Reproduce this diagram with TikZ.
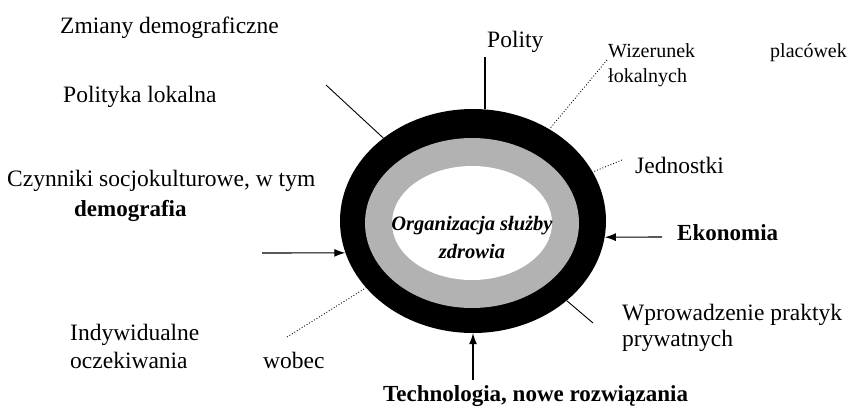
\documentclass[tikz,border=0pt]{standalone}
\usepackage{fontspec}
\setmainfont{Liberation Serif}
\usetikzlibrary{arrows.meta,shapes.geometric}
\tikzset{
  >={Latex[length=11pt,width=8pt]},
  lbl/.style={font=\fontsize{23.5}{28}\selectfont, anchor=base west, inner sep=0pt},
  lblbf/.style={lbl, font=\fontsize{23}{28}\selectfont\bfseries},
  smalllbl/.style={lbl, font=\fontsize{20}{24}\selectfont},
  spoke/.style={black, line width=0.9pt},
  dotspoke/.style={black, line width=0.9pt, dotted},
  feed/.style={black, line width=1.1pt, ->},
  ring/.style={ellipse, inner sep=0pt, draw=none},
}
\begin{document}
\begin{tikzpicture}[x=1pt, y=-1pt]
\useasboundingbox (0,0) rectangle (854,408);
% the rings
\node[ring, fill=black, minimum width=266pt, minimum height=224pt] (outer) at (473,221) {};
\node[ring, fill=black!30, minimum width=214pt, minimum height=170pt] (band) at (472,223) {};
\node[ring, fill=white, minimum width=160pt, minimum height=114pt] (core) at (472,223) {};
\node[font=\fontsize{20.5}{28}\selectfont\bfseries\itshape, align=center, inner sep=0pt] (org) at (472,237) {Organizacja służby\\zdrowia};
% labels round the rings
\node[lbl] (zmiany) at (60,33) {Zmiany demograficzne};
\node[lbl] (polity) at (487,47) {Polity};
\node[smalllbl] (wizerunek) at (608,57) {Wizerunek};
\node[smalllbl] (placowek) at (770,57) {placówek};
\node[smalllbl] (lokalnych) at (608,82) {łokalnych};
\node[lbl] (polityka) at (63,102) {Polityka lokalna};
\node[lbl] (jednostki) at (635,173) {Jednostki};
\node[lbl] (czynniki) at (7,186) {Czynniki socjokulturowe, w tym};
\node[lblbf] (demografia) at (74,216) {demografia};
\node[lblbf] (ekonomia) at (677,240) {Ekonomia};
\node[lbl] (wprowadzenie) at (622,320) {Wprowadzenie praktyk};
\node[lbl] (prywatnych) at (622,346) {prywatnych};
\node[lbl] (indywidualne) at (70,340) {Indywidualne};
\node[lbl] (oczekiwania) at (70,368) {oczekiwania};
\node[lbl] (wobec) at (263,368) {wobec};
\node[lblbf] (technologia) at (383,401) {Technologia, nowe rozwiązania};
% connectors
\coordinate (politytop) at (485,57);
\coordinate (polend) at (326,85);
\coordinate (wizend) at (607,60);
\coordinate (jedend) at (622,160);
\coordinate (czynend) at (262,253);
\coordinate (ekoend) at (662,237);
\coordinate (oczend) at (287,337);
\coordinate (wprend) at (593,323);
\coordinate (techend) at (473,380);
\draw[spoke, line width=1.3pt] (politytop) -- (politytop |- outer.84);
\draw[spoke] (polend) -- (outer);
\draw[dotspoke] (wizend) -- (outer);
\draw[dotspoke] (jedend) -- (outer);
\draw[dotspoke] (oczend) -- (outer);
\draw[spoke] (wprend) -- (outer);
\draw[feed] (czynend) -- (outer.194);
\draw[feed] (ekoend) -- (outer.353);
\draw[feed] (techend) -- (outer.south);
\end{tikzpicture}
\end{document}
